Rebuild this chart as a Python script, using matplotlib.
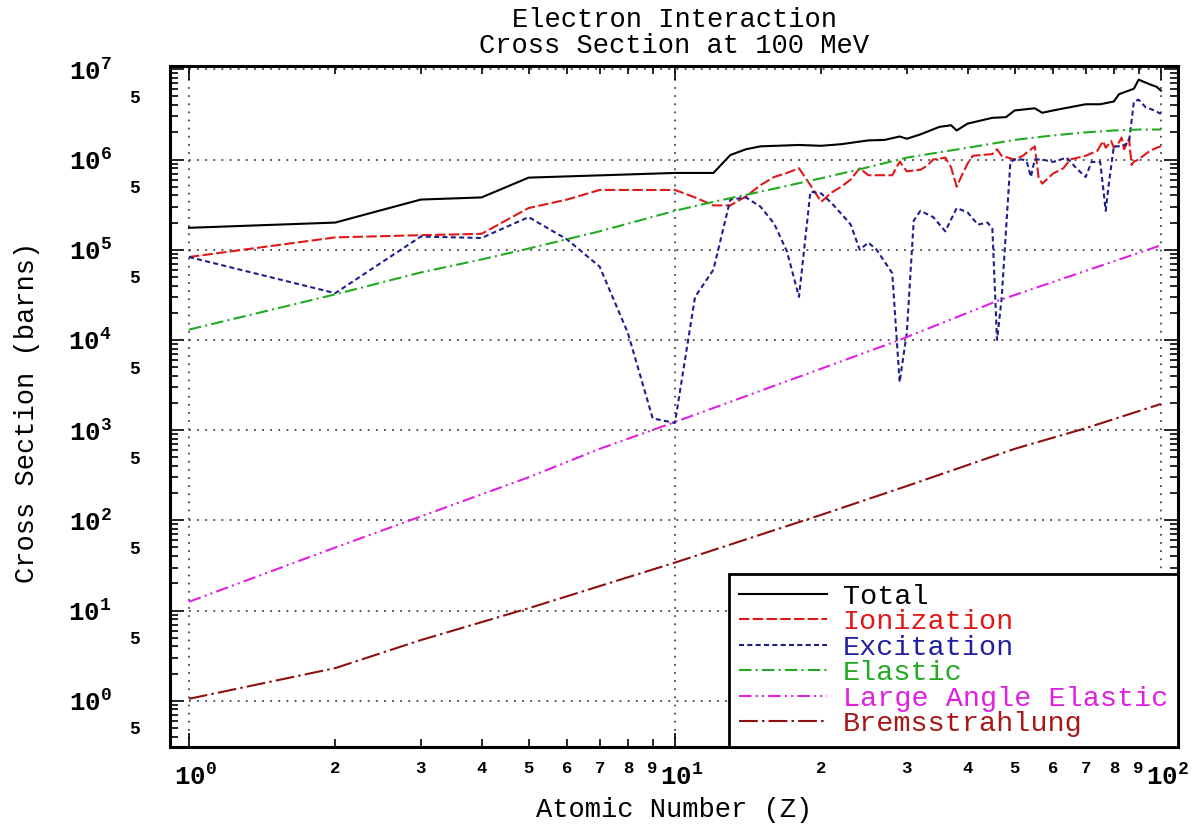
import matplotlib
matplotlib.use('Agg')
import matplotlib.pyplot as plt
from matplotlib.ticker import FixedLocator, FixedFormatter
from matplotlib.transforms import ScaledTranslation

plt.rcParams['font.family'] = ['Liberation Mono', 'DejaVu Sans']
plt.rcParams['mathtext.fontset'] = 'custom'
plt.rcParams['mathtext.rm'] = 'Liberation Mono'
plt.rcParams['mathtext.it'] = 'Liberation Mono'
plt.rcParams['mathtext.bf'] = 'Liberation Mono:bold'

# ---------------- data ----------------
z_total = [1, 2, 3, 4, 5, 10, 12, 13, 14, 15, 18, 20, 22, 25, 27, 29, 30, 32, 35, 37, 38,
           40, 45, 48, 50, 55, 57, 60, 65, 70, 75, 80, 82, 88, 90, 92, 95, 98, 100]
total = [1.75e5, 2.0e5, 3.6e5, 3.8e5, 6.3e5, 7.1e5, 7.1e5, 1.12e6, 1.3e6, 1.4e6, 1.45e6,
         1.42e6, 1.48e6, 1.63e6, 1.65e6, 1.8e6, 1.7e6, 1.9e6, 2.3e6, 2.4e6, 2.1e6,
         2.5e6, 2.9e6, 2.95e6, 3.5e6, 3.7e6, 3.3e6, 3.5e6, 3.8e6, 4.1e6, 4.1e6, 4.4e6,
         5.3e6, 6.1e6, 7.7e6, 7.3e6, 6.8e6, 6.4e6, 5.8e6]

z_ion = [1, 2, 3, 4, 5, 6, 7, 10, 11, 12, 13, 14, 15, 16, 17, 18, 19, 20, 21, 22, 23, 24,
         25, 28, 29, 30, 32, 33, 34, 36, 37, 38, 39, 40, 41, 45, 46, 47, 50, 52, 55, 56,
         57, 60, 63, 65, 70, 74, 76, 77, 79, 80, 82, 83, 84, 86, 87, 88, 90, 93, 95, 98, 100]
ionization = [8.3e4, 1.37e5, 1.45e5, 1.5e5, 2.9e5, 3.6e5, 4.6e5, 4.6e5, 3.8e5, 3.1e5, 3.1e5,
              3.9e5, 5.2e5, 6.4e5, 7.1e5, 8.0e5, 5.2e5, 3.4e5, 4.3e5, 5.0e5, 6.0e5, 8.0e5,
              6.7e5, 6.7e5, 9.5e5, 7.4e5, 7.7e5, 8.5e5, 1.0e6, 1.05e6, 8.2e5, 5.0e5, 6.8e5,
              9.0e5, 1.1e6, 1.15e6, 1.3e6, 1.1e6, 1.0e6, 1.1e6, 1.4e6, 6.4e5, 5.4e5, 7.0e5,
              8.0e5, 1.0e6, 1.1e6, 1.25e6, 1.6e6, 1.35e6, 1.6e6, 1.35e6, 1.55e6, 1.75e6,
              1.3e6, 1.7e6, 8.7e5, 9.5e5, 1.0e6, 1.15e6, 1.25e6, 1.35e6, 1.4e6]

z_exc = [1, 2, 3, 4, 5, 6, 7, 8, 9, 10, 11, 12, 13, 14, 15, 16, 17, 18, 19, 20, 21, 22, 23,
         24, 25, 26, 28, 29, 30, 31, 32, 34, 36, 38, 40, 42, 44, 45, 46, 47, 49, 50, 52, 53,
         54, 55, 57, 60, 64, 67, 70, 72, 75, 77, 78, 80, 83, 85, 86, 88, 90, 93, 97, 100]
excitation = [8.3e4, 3.3e4, 1.4e5, 1.35e5, 2.3e5, 1.3e5, 6.5e4, 1.2e4, 1.35e3, 1.2e3, 3.0e4,
              6.0e4, 3.6e5, 3.8e5, 3.0e5, 1.95e5, 9.6e4, 3.0e4, 4.4e5, 4.2e5, 3.3e5, 2.5e5,
              1.9e5, 1.0e5, 1.2e5, 1.0e5, 5.5e4, 3.4e3, 1.2e4, 2.1e5, 2.7e5, 2.3e5, 1.6e5,
              2.9e5, 2.6e5, 1.9e5, 2.0e5, 1.7e5, 1.0e4, 2.8e4, 9.3e5, 1.0e6, 1.0e6, 9.4e5,
              6.4e5, 1.0e6, 1.0e6, 9.4e5, 1.05e6, 8.0e5, 6.4e5, 9.4e5, 9.4e5, 2.7e5, 5.0e5,
              1.4e6, 1.4e6, 1.5e6, 1.6e6, 4.4e6, 4.6e6, 3.8e6, 3.5e6, 3.2e6]

z_ela = [1, 2, 3, 4, 5, 7, 10, 12, 15, 20, 24, 30, 40, 50, 60, 70, 80, 90, 100]
elastic = [1.3e4, 3.2e4, 5.6e4, 7.8e4, 1.03e5, 1.6e5, 2.7e5, 3.4e5, 4.4e5, 6.2e5, 7.8e5,
           1.05e6, 1.35e6, 1.65e6, 1.85e6, 2.0e6, 2.1e6, 2.15e6, 2.15e6]

z_lae = [1, 2, 5, 7, 10, 20, 29, 46, 100]
large_angle = [12.5, 50, 300, 620, 1230, 4800, 1.0e4, 2.7e4, 1.12e5]

z_brem = [1, 2, 3, 5, 10, 20, 30, 50, 70, 100]
brems = [1.05, 2.3, 4.7, 10.6, 34, 115, 240, 620, 1050, 1950]

labels = ['Total', 'Ionization', 'Excitation', 'Elastic', 'Large Angle Elastic',
          'Bremsstrahlung']
x_major = [1, 10, 100]
x_major_exps = [0, 1, 2]
x_minor = [2, 3, 4, 5, 6, 7, 8, 9, 20, 30, 40, 50, 60, 70, 80, 90]
x_minor_labels = ['2', '3', '4', '5', '6', '7', '8', '9'] * 2
y_exps = [0, 1, 2, 3, 4, 5, 6, 7]
y_minor_exps = [-1, 0, 1, 2, 3, 4, 5, 6]
y_minor_mants = [2, 3, 4, 5, 6, 7, 8, 9]

# ---------------- styles ----------------
colors = ['black', '#e01818', '#1e1e8c', '#22aa22', '#e020e0', '#8e1010']
text_colors = ['black', '#dd1a1a', '#2020a0', '#22aa22', '#e020e0', '#a81818']
styles = ['-', (0, (5, 1.6)), (0, (2.4, 1.6)), (0, (6, 2, 1, 2)),
          (0, (6, 2, 1, 2, 1, 2)), (0, (9, 2, 1.2, 2))]

fig = plt.figure(figsize=(12.01, 8.30), dpi=100)
ax = fig.add_axes([0.1415, 0.1, 0.8393, 0.8208])
ax.set_xscale('log')
ax.set_yscale('log')
ax.set_xlim(0.914, 108.4)
ax.set_ylim(0.307, 1.096e7)

# grid (dotted) restricted as in the reference
decades = [10.0 ** e for e in y_exps]
ax.hlines(decades, x_major[0], x_major[-1], colors='#444444', linestyles=(0, (1, 3.5)),
          linewidth=1.3, zorder=1)
ax.vlines(x_major, 0.307, 1.096e7, colors='#444444', linestyles=(0, (1, 3.5)),
          linewidth=1.3, zorder=1)

series = [(z_total, total), (z_ion, ionization), (z_exc, excitation), (z_ela, elastic),
          (z_lae, large_angle), (z_brem, brems)]
for (zz, vv), c, ls, lab in zip(series, colors, styles, labels):
    ax.plot(zz, vv, color=c, linestyle=ls, linewidth=1.5, label=lab, zorder=3)

# ticks
ax.xaxis.set_major_locator(FixedLocator(x_major))
ax.xaxis.set_major_formatter(FixedFormatter(
    [r'$\mathbf{10^{%d}}$' % e for e in x_major_exps]))
ax.xaxis.set_minor_locator(FixedLocator(x_minor))
ax.xaxis.set_minor_formatter(FixedFormatter(x_minor_labels))

y_minor = []
y_minor_labels = []
for e in y_minor_exps:
    for m in y_minor_mants:
        y_minor.append(m * 10.0 ** e)
        y_minor_labels.append('5' if m == 5 else '')
ax.yaxis.set_major_locator(FixedLocator(decades))
ax.yaxis.set_major_formatter(FixedFormatter([r'$\mathbf{10^{%d}}$' % e for e in y_exps]))
ax.yaxis.set_minor_locator(FixedLocator(y_minor))
ax.yaxis.set_minor_formatter(FixedFormatter(y_minor_labels))

ax.tick_params(which='both', direction='in', top=True, right=True, width=1.2)
ax.tick_params(which='major', length=10)
ax.tick_params(which='minor', length=6)
ax.tick_params(axis='x', which='major', labelsize=18.5, pad=12)
ax.tick_params(axis='x', which='minor', labelsize=12.5, pad=10)
ax.tick_params(axis='y', which='major', labelsize=18.5, pad=42)
ax.tick_params(axis='y', which='minor', labelsize=13, pad=22)
for lab in ax.get_xticklabels(which='minor') + ax.get_yticklabels(which='minor'):
    lab.set_fontweight('bold')

# shift the x decade labels so that the "10" sits centred on its tick
shift = ScaledTranslation(7 / 100, 0, fig.dpi_scale_trans)
for tk in ax.xaxis.get_major_ticks():
    tk.label1.set_transform(tk.label1.get_transform() + shift)

for sp in ax.spines.values():
    sp.set_linewidth(2.2)

# text
fig.text(674 / 1201, 1 - 33 / 830, 'Electron Interaction\nCross Section at 100 MeV',
         ha='center', va='center', fontsize=19.5, linespacing=1.0)
fig.text(674 / 1201, 1 - 810 / 830, 'Atomic Number (Z)', ha='center', va='center',
         fontsize=19.5)
fig.text(27 / 1201, 1 - 412 / 830, 'Cross Section (barns)', ha='center', va='center',
         fontsize=19.5, rotation=90)

leg = ax.legend(loc='lower right', borderaxespad=0, fancybox=False, framealpha=1,
                edgecolor='black', fontsize=20.5, handlelength=3.1, handletextpad=0.55,
                labelspacing=-0.02, borderpad=0.35)
leg.get_frame().set_linewidth(2.0)
for t, c in zip(leg.get_texts(), text_colors):
    t.set_color(c)
leg.set_zorder(5)

fig.savefig('out.png', dpi=100)
